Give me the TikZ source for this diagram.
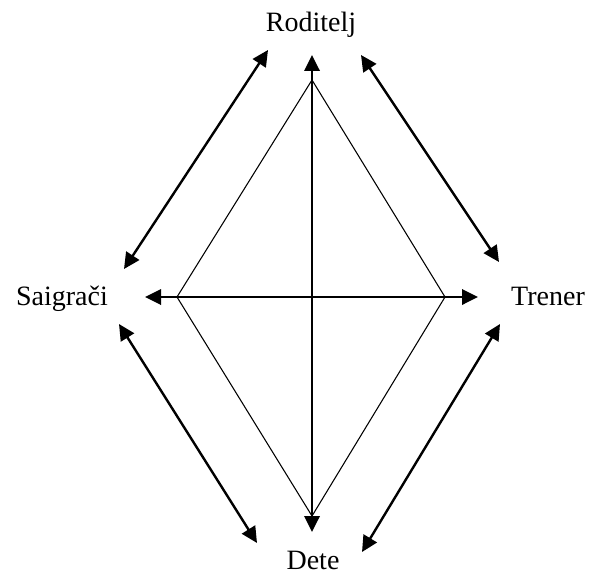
\documentclass[tikz,border=0pt]{standalone}
\usepackage{fontspec}
\setmainfont{Liberation Serif}
\usetikzlibrary{arrows.meta}

\begin{document}
\begin{tikzpicture}[x=0.75pt,y=-0.75pt,>={Triangle[length=12pt,width=11.5pt]},
  role/.style={font=\fontsize{21}{25}\selectfont,anchor=base,inner sep=0pt},
  link/.style={<->,line width=1.8pt},
  side/.style={line width=0.8pt}]
\useasboundingbox (0,0) rectangle (595,574);
% roles
\node[role] (rod) at (311,32) {Roditelj};
\node[role] (sai) at (62,305) {Saigrači};
\node[role] (tre) at (548,305) {Trener};
\node[role] (det) at (313,569) {Dete};
% diamond
\coordinate (top) at (312,80);
\coordinate (lft) at (177,297);
\coordinate (rgt) at (445,297);
\coordinate (bot) at (312,516);
\draw[side] (top) -- (lft) -- (bot) -- (rgt) -- cycle;
% cross
\coordinate (vt) at (312,55);
\coordinate (vb) at (312,532);
\coordinate (hl) at (145,297);
\coordinate (hr) at (478,297);
\draw[link] (vb) -- (vt);
\draw[link] (hl) -- (hr);
% outer links
\coordinate (a1) at (268,50);  \coordinate (a2) at (124,269);
\coordinate (b1) at (361,55);  \coordinate (b2) at (499,262);
\coordinate (c1) at (119,324); \coordinate (c2) at (257,543);
\coordinate (d1) at (500,324); \coordinate (d2) at (362,552);
\draw[link] (a1) -- (a2);
\draw[link] (b1) -- (b2);
\draw[link] (c1) -- (c2);
\draw[link] (d1) -- (d2);
\end{tikzpicture}
\end{document}
